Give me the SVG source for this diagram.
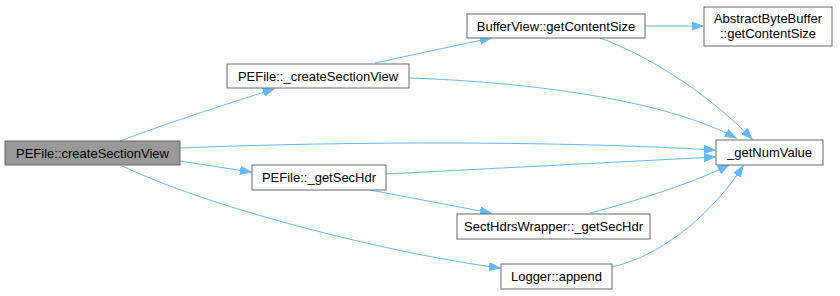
<svg xmlns="http://www.w3.org/2000/svg" width="840" height="296" viewBox="0 0 840 296">
  <style>
    .node rect { fill: #ffffff; stroke: #666666; stroke-width: 1; }
    .node.current rect { fill: #999999; }
    .node text { font-family: "Liberation Sans", Arial, sans-serif; font-size: 13px; fill: #000000; text-anchor: middle; }
    .edge { fill: none; stroke: #63b8ff; stroke-width: 1; marker-end: url(#arrow); }
  </style>
  <defs>
    <marker id="arrow" markerUnits="userSpaceOnUse" markerWidth="12" markerHeight="9" refX="11" refY="4.5" orient="auto">
      <path d="M0,0.5 L11,4.5 L0,8.5 z" fill="#63b8ff" stroke="#63b8ff" stroke-width="1"/>
    </marker>
  </defs>
  <rect width="840" height="296" fill="#ffffff"/>

  <g id="edges">
    <path class="edge" d="M120,141 C165,124 220,106 274,89"/>
    <path class="edge" d="M180,148 C350,141 560,141 715,150"/>
    <path class="edge" d="M180,161 L251,172"/>
    <path class="edge" d="M122,166 C220,212 400,255 500,268"/>
    <path class="edge" d="M375,63 L491,38"/>
    <path class="edge" d="M409,78 C530,82 665,100 736,138"/>
    <path class="edge" d="M645,26 L703,26"/>
    <path class="edge" d="M600,38 C655,58 715,100 752,139"/>
    <path class="edge" d="M386,174 L715,157"/>
    <path class="edge" d="M370,190 L491,213"/>
    <path class="edge" d="M590,213 C640,200 695,182 729,165"/>
    <path class="edge" d="M612,267 C665,255 715,210 743,166"/>
  </g>

  <g id="createSectionView" class="node current">
    <rect x="5" y="141" width="175" height="24"/>
    <text x="92.5" y="157.5">PEFile::createSectionView</text>
  </g>
  <g id="_createSectionView" class="node">
    <rect x="227" y="64" width="182" height="24"/>
    <text x="318" y="80.5">PEFile::_createSectionView</text>
  </g>
  <g id="BufferView_getContentSize" class="node">
    <rect x="467" y="14" width="178" height="24"/>
    <text x="556" y="30.5">BufferView::getContentSize</text>
  </g>
  <g id="AbstractByteBuffer_getContentSize" class="node">
    <rect x="704" y="7" width="128" height="39"/>
    <text x="768" y="23">AbstractByteBuffer</text>
    <text x="768" y="38">::getContentSize</text>
  </g>
  <g id="_getNumValue" class="node">
    <rect x="716" y="140" width="107" height="25"/>
    <text x="769.5" y="157">_getNumValue</text>
  </g>
  <g id="_getSecHdr" class="node">
    <rect x="252" y="165" width="134" height="25"/>
    <text x="319" y="182">PEFile::_getSecHdr</text>
  </g>
  <g id="SectHdrsWrapper_getSecHdr" class="node">
    <rect x="457" y="214" width="193" height="25"/>
    <text x="553.5" y="231">SectHdrsWrapper::_getSecHdr</text>
  </g>
  <g id="Logger_append" class="node">
    <rect x="501" y="264" width="111" height="25"/>
    <text x="556.5" y="281">Logger::append</text>
  </g>
</svg>
